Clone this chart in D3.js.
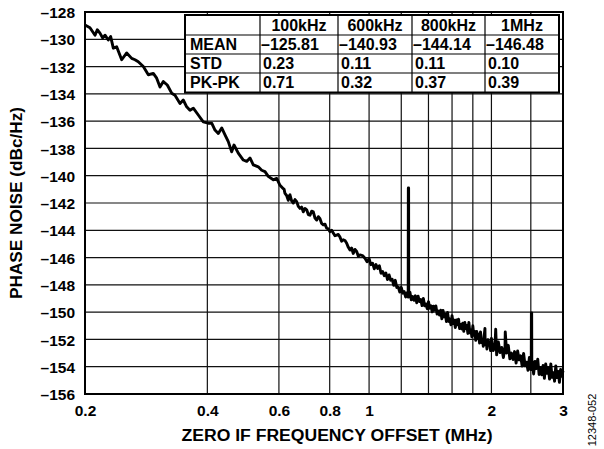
<!DOCTYPE html>
<html><head><meta charset="utf-8">
<script src="https://cdn.jsdelivr.net/npm/d3@7"></script>
<style>
html,body{margin:0;padding:0;background:#fff;}
svg{display:block;}
text{font-family:"Liberation Sans",Arial,Helvetica,sans-serif;font-weight:bold;fill:#000;}
</style>
</head><body>
<svg id="chart" width="604" height="449"></svg>
<script>
// ---- data ----
const freqMHz = [
  0.2000,0.2057,0.2117,0.2144,0.2177,0.2211,0.2240,0.2282,0.2313,0.2348,
  0.2393,0.2462,0.2533,0.2606,0.2655,0.2705,0.2783,0.2863,0.2945,0.3002,
  0.3059,0.3117,0.3188,0.3268,0.3330,0.3426,0.3490,0.3558,0.3625,0.3694,
  0.3800,0.3909,0.4021,0.4100,0.4177,0.4256,0.4339,0.4421,0.4504,0.4591,
  0.4652,0.4766,0.4904,0.4999,0.5093,0.5189,0.5338,0.5442,0.5545,0.5649,
  0.5812,0.5925,0.6037,0.6151,
  0.6180,0.6210,0.6268,0.6327,0.6357,0.6388,0.6448,0.6509,0.6572,0.6636,
  0.6698,0.6761,0.6824,0.6888,0.6955,0.7022,0.7088,0.7155,0.7222,0.7290,
  0.7360,0.7432,0.7502,0.7572,0.7643,0.7715,0.7790,0.7864,0.7938,0.8013,
  0.8088,0.8164,0.8243,0.8323,0.8401,0.8480,0.8560,0.8640,0.8724,0.8808,
  0.8891,0.8974,0.9058,0.9143,0.9232,0.9321,0.9409,0.9497,0.9633,0.9770,
  0.9885,
  1.00,1.01,1.02,1.03,1.04,1.05,1.06,1.07,1.08,1.09,
  1.10,1.11,1.12,1.13,1.14,1.15,1.16,1.17,1.18,1.19,
  1.20,1.21,1.22,1.23,1.24,1.248,1.249,1.251,1.252,1.26,
  1.27,1.28,1.29,1.30,1.31,1.32,1.33,1.34,1.35,1.36,
  1.37,1.38,1.39,1.40,1.41,1.42,1.43,1.44,1.45,1.46,
  1.47,1.48,1.49,1.50,1.51,1.52,1.53,1.54,1.55,1.56,
  1.57,1.58,1.59,1.60,1.61,1.62,1.63,1.64,1.65,1.66,
  1.67,1.68,1.69,1.70,1.71,1.72,1.73,1.74,1.75,1.76,
  1.77,1.78,1.79,1.80,1.81,1.82,1.83,1.84,1.85,1.86,
  1.87,1.88,1.89,1.90,1.91,1.92,1.928,1.93,1.94,1.95,
  1.96,1.97,1.98,1.99,2.00,2.02,2.04,2.049,2.06,2.08,
  2.10,2.12,2.14,2.16,2.163,2.18,2.20,2.22,2.24,2.26,
  2.28,2.30,2.32,2.34,2.36,2.38,2.40,2.42,2.44,2.46,
  2.48,2.50,2.506,2.508,2.512,2.514,2.52,2.54,2.56,2.58,
  2.60,2.62,2.64,2.66,2.68,2.70,2.72,2.74,2.76,2.78,
  2.80,2.82,2.84,2.86,2.88,2.90,2.92,2.94,2.96,2.98,
  3.00
];
const phaseNoiseDbc = [
  -128.95,-129.15,-129.70,-129.30,-129.55,-129.90,-129.70,-130.05,-129.80,-130.65,
  -130.55,-131.50,-131.00,-131.40,-131.50,-131.65,-132.00,-132.60,-132.50,-132.85,
  -133.50,-133.10,-133.35,-133.95,-134.10,-134.70,-134.45,-134.95,-135.20,-135.05,
  -135.55,-136.05,-136.15,-136.15,-136.65,-136.90,-136.50,-137.00,-137.50,-138.25,
  -137.75,-138.35,-138.85,-138.95,-138.70,-139.20,-139.35,-139.60,-139.70,-140.05,
  -140.30,-140.20,-140.70,-140.95,
  -141.00,-141.30,-141.45,-141.80,-141.50,-141.40,-141.85,-142.00,-141.75,-141.90,
  -142.25,-142.40,-142.30,-142.65,-142.40,-142.50,-142.85,-142.90,-142.60,-142.65,
  -143.10,-143.25,-143.00,-143.15,-143.50,-143.60,-143.55,-143.85,-143.90,-144.10,
  -144.00,-144.20,-144.40,-144.35,-144.30,-144.50,-144.80,-144.70,-144.75,-144.95,
  -145.25,-145.45,-145.30,-145.70,-145.40,-145.55,-145.90,-145.80,-145.85,-146.05,
  -146.30,
  -146.08,-146.52,-146.41,-146.82,-146.51,-146.80,-146.60,-147.15,-147.03,-147.33,
  -147.13,-147.61,-147.27,-147.66,-147.59,-148.03,-147.67,-148.19,-148.16,-148.53,
  -148.18,-148.61,-148.49,-148.89,-148.57,-148.90,-140.90,-140.90,-148.86,-148.53,
  -149.10,-148.86,-149.13,-148.80,-149.31,-148.83,-149.22,-149.07,-149.52,-149.00,
  -149.53,-149.40,-149.75,-149.23,-149.71,-149.53,-149.98,-149.56,-149.86,-149.55,
  -150.14,-149.92,-150.21,-149.86,-150.49,-149.87,-150.34,-150.14,-150.69,-150.03,
  -150.68,-150.50,-150.93,-150.26,-150.84,-150.59,-151.13,-150.58,-150.93,-150.51,
  -151.21,-150.90,-151.23,-150.81,-151.41,-150.76,-151.20,-150.97,-151.56,-150.75,
  -151.52,-151.30,-151.80,-151.00,-151.70,-151.41,-152.06,-151.41,-151.89,-151.62,
  -152.26,-151.45,-152.22,-152.00,-152.50,-151.70,-151.20,-152.38,-152.07,-152.70,
  -152.02,-152.42,-152.19,-152.82,-151.93,-152.82,-152.55,-151.25,-153.13,-152.18,
  -152.96,-152.59,-153.33,-152.54,-151.45,-153.00,-152.43,-153.42,-153.00,-153.47,
  -152.89,-153.73,-152.85,-153.50,-153.20,-153.95,-153.03,-153.93,-153.67,-154.26,
  -153.32,-154.21,-153.90,-150.05,-150.05,-153.90,-153.59,-154.53,-153.61,-154.13,
  -153.45,-154.57,-154.07,-154.59,-153.91,-154.85,-153.80,-154.49,-154.10,-154.91,
  -153.80,-154.78,-154.44,-155.06,-153.94,-154.80,-154.34,-155.14,-154.20,-154.70,
  -154.30
];
const yTickValues = [-128,-130,-132,-134,-136,-138,-140,-142,-144,-146,-148,-150,-152,-154,-156];
const xTickValues = [0.2,0.4,0.6,0.8,1,2,3];
const xGridValues = [0.4,0.6,0.8,1,1.2,1.4,1.6,1.8,2,2.5];
const tableHeader = ["", "100kHz", "600kHz", "800kHz", "1MHz"];
const tableRowLabels = ["MEAN", "STD", "PK-PK"];
const meanValues = ["\u2013125.81", "\u2013140.93", "\u2013144.14", "\u2013146.48"];
const stdValues = ["0.23", "0.11", "0.11", "0.10"];
const pkpkValues = ["0.71", "0.32", "0.37", "0.39"];

// ---- layout ----
const L = 85, R = 563, T = 12, B = 394;
const svg = d3.select("#chart");
const x = d3.scaleLog().domain([0.2, 3]).range([L, R]);
const y = d3.scaleLinear().domain([-156, -128]).range([B, T]);

// grid
svg.append("g").selectAll("line").data(yTickValues).join("line")
  .attr("x1", L).attr("x2", R).attr("y1", d => y(d)).attr("y2", d => y(d))
  .attr("stroke", "#111").attr("stroke-width", 1.2);
svg.append("g").selectAll("line").data(xGridValues).join("line")
  .attr("x1", d => x(d)).attr("x2", d => x(d)).attr("y1", T).attr("y2", B)
  .attr("stroke", "#111").attr("stroke-width", 1.2);

// table
const colEdges = [185, 260, 338, 412, 485, 559];
const rowEdges = [15, 35, 54, 73, 92.5];
const tg = svg.append("g");
tg.append("rect").attr("x", colEdges[0]).attr("y", rowEdges[0])
  .attr("width", colEdges[5] - colEdges[0]).attr("height", rowEdges[4] - rowEdges[0])
  .attr("fill", "#fff").attr("stroke", "#000").attr("stroke-width", 2);
tg.selectAll("line.c").data(colEdges.slice(1, 5)).join("line")
  .attr("x1", d => d).attr("x2", d => d).attr("y1", rowEdges[0]).attr("y2", rowEdges[4])
  .attr("stroke", "#000").attr("stroke-width", 1.2);
tg.selectAll("line.r").data(rowEdges.slice(1, 4)).join("line")
  .attr("x1", colEdges[0]).attr("x2", colEdges[5]).attr("y1", d => d).attr("y2", d => d)
  .attr("stroke", "#000").attr("stroke-width", 1.2);
const fs = 16;
tableHeader.forEach((h, i) => {
  if (!h) return;
  tg.append("text").attr("x", (colEdges[i] + colEdges[i + 1]) / 2).attr("y", rowEdges[0] + 15.5)
    .attr("text-anchor", "middle").attr("font-size", fs).text(h);
});
const bodyRows = [meanValues, stdValues, pkpkValues];
tableRowLabels.forEach((lab, r) => {
  const by = rowEdges[r + 1] + 15;
  tg.append("text").attr("x", colEdges[0] + 5).attr("y", by).attr("font-size", fs).text(lab);
  bodyRows[r].forEach((v, c) => {
    tg.append("text").attr("x", colEdges[c + 1] + (r === 0 ? 1 : 3)).attr("y", by)
      .attr("font-size", fs).text(v);
  });
});

// trace
const trace = freqMHz.map((f, i) => [f, phaseNoiseDbc[i]]);
svg.append("path").datum(trace)
  .attr("d", d3.line().x(d => x(d[0])).y(d => y(d[1])))
  .attr("fill", "none").attr("stroke", "#000").attr("stroke-width", 2.9)
  .attr("stroke-linejoin", "round");

// border
svg.append("rect").attr("x", L).attr("y", T).attr("width", R - L).attr("height", B - T)
  .attr("fill", "none").attr("stroke", "#000").attr("stroke-width", 2);

// axes
const yAxis = d3.axisLeft(y).tickValues(yTickValues).tickSize(0).tickPadding(10)
  .tickFormat(d => String(d).replace("-", "\u2013"));
const gy = svg.append("g").attr("transform", `translate(${L},0)`).call(yAxis);
gy.select(".domain").remove();
gy.selectAll("text").attr("font-size", 15.5).attr("font-family", null).attr("dy", "0.36em");

const xAxis = d3.axisBottom(x).tickValues(xTickValues).tickSize(0).tickPadding(11)
  .tickFormat(d => String(d));
const gx = svg.append("g").attr("transform", `translate(0,${B})`).call(xAxis);
gx.select(".domain").remove();
gx.selectAll("text").attr("font-size", 15.5).attr("font-family", null);

// titles
svg.append("text").attr("x", 337).attr("y", 441).attr("text-anchor", "middle")
  .attr("font-size", 16).attr("textLength", 311).attr("lengthAdjust", "spacingAndGlyphs")
  .text("ZERO IF FREQUENCY OFFSET (MHz)");
svg.append("text").attr("transform", "translate(22,203) rotate(-90)")
  .attr("text-anchor", "middle").attr("font-size", 16)
  .attr("textLength", 192).attr("lengthAdjust", "spacingAndGlyphs")
  .text("PHASE NOISE (dBc/Hz)");
svg.append("text").attr("transform", "translate(596,420) rotate(-90)")
  .attr("text-anchor", "middle").attr("font-size", 11).style("font-weight", "normal")
  .attr("fill", "#222").text("12348-052");
</script>
</body></html>
